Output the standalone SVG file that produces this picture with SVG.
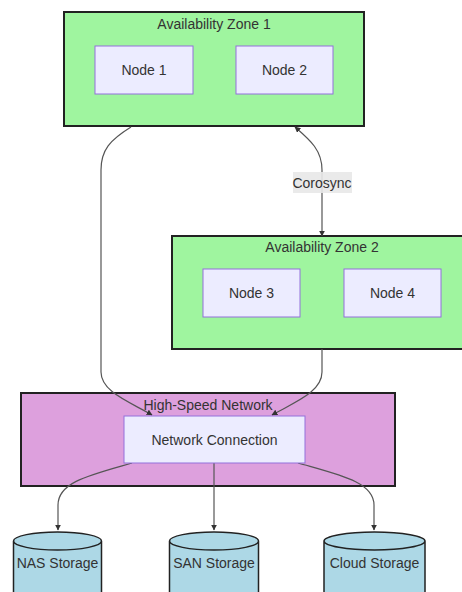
<svg xmlns="http://www.w3.org/2000/svg" width="462" height="592" viewBox="0 0 462 592">
  <style>
    text { font-family: "Liberation Sans", Arial, sans-serif; font-size: 14px; fill: #333; text-anchor: middle; dominant-baseline: central; }
    .zone { fill: #9ff59f; stroke: #222; stroke-width: 2; }
    .net { fill: #dda0dd; stroke: #222; stroke-width: 2; }
    .node { fill: #ececff; stroke: #9370db; stroke-width: 1; }
    .store { fill: #add8e6; stroke: #222; stroke-width: 1.5; }
    .edge { fill: none; stroke: #555; stroke-width: 1.2; }
    .lbl { fill: #e8e8e8; opacity: 0.9; }
  </style>
  <defs>
    <marker id="arrow" viewBox="0 0 10 10" refX="9" refY="5" markerWidth="6" markerHeight="6" orient="auto-start-reverse" markerUnits="userSpaceOnUse">
      <path d="M0,0 L10,5 L0,10 z" fill="#333"/>
    </marker>
  </defs>

  <!-- clusters -->
  <g id="zone1">
    <rect class="zone" x="64" y="12" width="300" height="114"/>
    <text x="214" y="24">Availability Zone 1</text>
  </g>
  <g id="zone2">
    <rect class="zone" x="172" y="236" width="300" height="113"/>
    <text x="322" y="247">Availability Zone 2</text>
  </g>
  <g id="network">
    <rect class="net" x="21" y="393" width="374" height="93"/>
    <text x="208" y="405">High-Speed Network</text>
  </g>

  <!-- connectors -->
  <g id="edges">
    <path class="edge" d="M131,127 C110,140 101,150 101,170 L101,372 C101,392 130,402 152,415" marker-end="url(#arrow)"/>
    <path class="edge" d="M295,127 C310,140 322,150 322,170 L322,236" marker-start="url(#arrow)" marker-end="url(#arrow)"/>
    <path class="edge" d="M322,349 L322,372 C322,392 295,402 272,415" marker-end="url(#arrow)"/>
    <path class="edge" d="M132,463 C90,475 58,482 58,505 L58,530" marker-end="url(#arrow)"/>
    <path class="edge" d="M214,463 L214,530" marker-end="url(#arrow)"/>
    <path class="edge" d="M298,463 C340,475 374,482 374,505 L374,530" marker-end="url(#arrow)"/>
    <g id="corosync-label">
      <rect class="lbl" x="293" y="172" width="59" height="21"/>
      <text x="322" y="183">Corosync</text>
    </g>
  </g>

  <!-- nodes -->
  <g id="node1">
    <rect class="node" x="95" y="46" width="98" height="48"/>
    <text x="144" y="70">Node 1</text>
  </g>
  <g id="node2">
    <rect class="node" x="236" y="46" width="97" height="48"/>
    <text x="284.5" y="70">Node 2</text>
  </g>
  <g id="node3">
    <rect class="node" x="203" y="269" width="97" height="48"/>
    <text x="251.5" y="293">Node 3</text>
  </g>
  <g id="node4">
    <rect class="node" x="344" y="269" width="97" height="48"/>
    <text x="392.5" y="293">Node 4</text>
  </g>
  <g id="netconn">
    <rect class="node" x="124" y="416" width="181" height="47"/>
    <text x="214.5" y="440">Network Connection</text>
  </g>
  <g id="nas">
    <path class="store" d="M13.5,541 a44,9 0 0,0 88,0 a44,9 0 0,0 -88,0 l0,62 a44,9 0 0,0 88,0 l0,-62"/>
    <text x="57.5" y="563">NAS Storage</text>
  </g>
  <g id="san">
    <path class="store" d="M169.5,541 a44.5,9 0 0,0 89,0 a44.5,9 0 0,0 -89,0 l0,62 a44.5,9 0 0,0 89,0 l0,-62"/>
    <text x="214" y="563">SAN Storage</text>
  </g>
  <g id="cloud">
    <path class="store" d="M324,541 a50.5,9 0 0,0 101,0 a50.5,9 0 0,0 -101,0 l0,62 a50.5,9 0 0,0 101,0 l0,-62"/>
    <text x="374.5" y="563">Cloud Storage</text>
  </g>
</svg>
